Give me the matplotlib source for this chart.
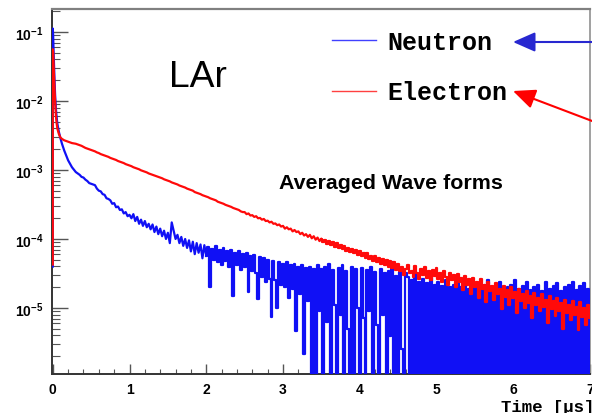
import numpy as np
import matplotlib
matplotlib.use('Agg')
import matplotlib.pyplot as plt
from matplotlib.ticker import MultipleLocator, LogLocator, FuncFormatter, NullFormatter, FixedLocator
from matplotlib.lines import Line2D
from matplotlib.patches import FancyArrowPatch
from matplotlib.font_manager import FontProperties

plt.rcParams['font.family'] = ['Liberation Sans', 'DejaVu Sans']
plt.rcParams['mathtext.fontset'] = 'custom'
plt.rcParams['mathtext.rm'] = 'Liberation Sans:bold'
plt.rcParams['mathtext.it'] = 'Liberation Sans:bold'
plt.rcParams['mathtext.bf'] = 'Liberation Sans:bold'
plt.rcParams['mathtext.default'] = 'rm'
plt.rcParams['path.simplify'] = False

# ---------------- data (log10 of averaged amplitude) ----------------
series_labels = ['Neutron', 'Electron']

early_time_us = [0.0, 0.0, 0.005, 0.01, 0.02, 0.03, 0.04, 0.05, 0.06, 0.08,
                 0.10, 0.12, 0.15, 0.20, 0.25]
neutron_early_log10 = [-4.40, -0.95, -1.05, -1.25, -1.60, -1.90, -2.10, -2.23,
                       -2.33, -2.45, -2.54, -2.62, -2.72, -2.86, -2.96]
electron_early_log10 = [-4.37, -1.25, -1.30, -1.45, -1.75, -2.00, -2.20, -2.32,
                        -2.40, -2.48, -2.53, -2.55, -2.57, -2.59, -2.61]

grid_start_us = 0.3
grid_step_us = 0.025

neutron_log10 = [
    -3.03, -3.05, -3.07, -3.10, -3.11, -3.14, -3.16, -3.19, -3.20, -3.21,
    -3.22, -3.27, -3.30, -3.31, -3.35, -3.36, -3.41, -3.42, -3.44, -3.49,
    -3.48, -3.54, -3.53, -3.58, -3.57, -3.63, -3.61, -3.67, -3.65,
    -3.70, -3.64, -3.74, -3.68, -3.78, -3.72, -3.81, -3.74, -3.83, -3.78,
    -3.86, -3.79, -3.90, -3.82, -3.93, -3.85, -3.96, -3.88, -4.00, -3.91,
    -4.06, -3.76, -3.88, -4.00, -3.94, -4.06, -3.97, -4.10, -4.00, -4.13,
    -4.02, -4.18, -4.04, -4.22, -4.06, -4.20, -4.08, -4.28, -4.09, -4.24,
    -4.12, -4.70, -4.14, -4.30, -4.10, -4.34, -4.16, -4.38, -4.13, -4.32,
    -4.18, -4.40, -4.16, -4.83, -4.20, -4.38, -4.18, -4.45, -4.22, -4.40,
    -4.20, -4.77, -4.24, -4.46, -4.23, -4.50, -4.87, -4.26, -4.55, -4.28,
    -4.62, -4.30, -4.58, -5.13, -4.32, -4.60, -5.00, -4.33, -4.66, -4.36,
    -4.70, -4.34, -4.85, -4.38, -4.72, -4.36, -5.34, -4.40, -4.80, -4.38,
    -5.67, -4.42,
    -4.90, -4.40, -6.5, -4.43, -6.5, -4.38, -5.05, -4.44, -6.5, -4.41,
    -5.20, -4.36, -6.5, -4.45, -4.95, -6.5, -4.42, -5.10, -4.38, -6.5,
    -4.46, -5.30, -6.5, -4.40, -6.5, -4.44, -5.00, -6.5, -4.42, -5.15,
    -6.5, -4.45, -5.05, -4.41, -6.5, -4.48, -5.25, -6.5, -4.43, -5.10,
    -4.50, -6.5, -4.46, -5.40, -4.34, -6.5, -4.53, -6.5, -4.48, -5.60,
    -6.5, -4.50,
    -4.55, -6.5, -4.60, -6.5, -4.48, -6.5, -4.62, -6.5, -4.58, -6.5,
    -4.64, -6.5, -4.52, -6.5, -4.66, -6.5, -4.62, -6.5, -4.68, -6.5,
    -4.60, -6.5, -4.70, -6.5, -4.66, -6.5, -4.58, -6.5, -4.70, -6.5,
    -4.64, -6.5, -4.72, -6.5, -4.62, -6.5, -4.70, -6.5, -4.74, -6.5,
    -4.66, -6.5, -4.60, -6.5, -4.72, -6.5, -4.68, -6.5, -4.62, -6.5,
    -4.74, -6.5, -4.70, -6.5, -4.66, -6.5, -4.60, -6.5, -4.72, -6.5,
    -4.68, -6.5, -4.62, -6.5, -4.74, -6.5, -4.70, -6.5, -4.66, -6.5,
    -4.76, -6.5, -4.62, -6.5, -4.72, -6.5, -4.68, -6.5, -4.64, -6.5,
    -4.76, -6.5, -4.70, -6.5, -4.66, -6.5, -4.62, -6.5, -4.74, -6.5,
    -4.68, -6.5, -4.64, -6.5, -4.72, -6.5,
]

electron_log10 = [
    -2.62, -2.63, -2.64, -2.65,
    -2.665, -2.68, -2.69, -2.70,
    -2.71, -2.72, -2.73, -2.745,
    -2.755, -2.77, -2.78, -2.79,
    -2.80, -2.81, -2.825, -2.835,
    -2.845, -2.855, -2.87, -2.88,
    -2.89, -2.90, -2.915, -2.925,
    -2.935, -2.945, -2.96, -2.97,
    -2.98, -2.99, -3.005, -3.015,
    -3.025, -3.035, -3.05, -3.06,
    -3.07, -3.08, -3.09, -3.10,
    -3.11, -3.12, -3.135, -3.145,
    -3.155, -3.165, -3.18, -3.19,
    -3.20, -3.21, -3.225, -3.235,
    -3.245, -3.255, -3.27, -3.28,
    -3.29, -3.30, -3.32, -3.33,
    -3.34, -3.35, -3.365, -3.375,
    -3.385, -3.395, -3.41, -3.42,
    -3.43, -3.44, -3.46, -3.47,
    -3.48, -3.49, -3.505, -3.515,
    -3.525, -3.535, -3.55, -3.56,
    -3.57, -3.58, -3.60, -3.61,
    -3.61, -3.64, -3.63, -3.66,
    -3.655, -3.68, -3.67, -3.70,
    -3.695, -3.72, -3.71, -3.74,
    -3.735, -3.76, -3.75, -3.78,
    -3.775, -3.80, -3.79, -3.82,
    -3.81, -3.85, -3.83, -3.86,
    -3.85, -3.89, -3.87, -3.90,
    -3.89, -3.93, -3.91, -3.95,
    -3.93, -3.97, -3.94, -3.99,
    -3.96, -4.01, -3.98, -4.03,
    -4.00, -4.05, -4.01, -4.08,
    -4.03, -4.09, -4.05, -4.11,
    -4.06, -4.13, -4.09, -4.15,
    -4.10, -4.17, -4.13, -4.19,
    -4.14, -4.21, -4.16, -4.23,
    -4.18, -4.25, -4.21, -4.28,
    -4.21, -4.29, -4.24, -4.32,
    -4.25, -4.33, -4.27, -4.36,
    -4.29, -4.37, -4.31, -4.40,
    -4.32, -4.42, -4.34, -4.45,
    -4.36, -4.47, -4.40, -4.52, -4.44, -4.38, -4.50, -4.46, -4.55, -4.39,
    -4.49, -4.58, -4.43, -4.52, -4.41, -4.56, -4.47, -4.60, -4.45, -4.53,
    -4.42, -4.58, -4.50, -4.63, -4.46, -4.55, -4.66, -4.49, -4.60, -4.52,
    -4.70, -4.51, -4.62, -4.56, -4.74, -4.53, -4.66, -4.58, -4.80, -4.57,
    -4.70, -4.62, -4.85, -4.58, -4.73, -4.66, -4.92, -4.62, -4.76, -4.68,
    -4.88, -4.64, -4.80, -4.72, -5.02, -4.68, -4.84, -4.74, -4.95, -4.70,
    -4.86, -4.77, -5.08, -4.72, -4.90, -4.80, -5.00, -4.75, -4.93, -4.82,
    -5.15, -4.78, -4.96, -4.85, -5.05, -4.80, -4.99, -4.88, -5.22, -4.83,
    -5.02, -4.90, -5.12, -4.85, -5.05, -4.93, -5.30, -4.88, -5.08, -4.95,
    -5.18, -4.90, -5.10, -4.98, -5.32, -4.92, -5.13, -5.00, -5.25, -4.95,
    -5.15,
]

# time after which each waveform is drawn as a histogram (noisy tail)
neutron_hist_from_us = 2.0
electron_hist_from_us = 3.5

x_ticks = [0, 1, 2, 3, 4, 5, 6, 7]
y_decades = [-5, -4, -3, -2, -1]
text_lar = 'LAr'
text_title = 'Averaged Wave forms'
x_label = 'Time [\u03bcs]'


def build(early_t, early_v, vals):
    t = list(early_t) + [grid_start_us + grid_step_us * i for i in range(len(vals))]
    v = list(early_v) + list(vals)
    return np.array(t), np.power(10.0, np.array(v))


tn, yn = build(early_time_us, neutron_early_log10, neutron_log10)
te, ye = build(early_time_us, electron_early_log10, electron_log10)

# ---------------- figure ----------------
W, H = 592, 414
fig = plt.figure(figsize=(W / 100, H / 100), dpi=100)
fig.patch.set_facecolor('white')
ax = fig.add_axes([52 / W, (H - 375) / H, 538 / W, 365 / H])

blue = '#1010f5'
red = '#ff0a0a'


def draw(t, y, t_split, color, z):
    k = int(np.searchsorted(t, t_split))
    ax.plot(t[:k + 1], y[:k + 1], color=color, lw=1.6, zorder=z)
    ax.plot(t[k:], y[k:], color=color, lw=1.6, zorder=z, drawstyle='steps-mid')


draw(tn, yn, neutron_hist_from_us, blue, 3)
draw(te, ye, electron_hist_from_us, red, 3.1)

ax.set_yscale('log')
ax.set_xlim(-0.01, 7.0)
ax.set_ylim(1.104e-6, 0.2154)

ax.xaxis.set_major_locator(FixedLocator(x_ticks))
ax.xaxis.set_minor_locator(MultipleLocator(0.2))
ax.set_xticklabels([str(v) for v in x_ticks], fontweight='bold')
ax.yaxis.set_major_locator(FixedLocator([10.0 ** d for d in y_decades]))
ax.yaxis.set_minor_locator(LogLocator(base=10, subs=np.arange(2, 10)))
ax.yaxis.set_major_formatter(FuncFormatter(lambda v, p: r'$10^{%d}$' % int(round(np.log10(v)))))
ax.yaxis.set_minor_formatter(NullFormatter())

tick_col = '#555555'
ax.tick_params(axis='y', which='major', direction='in', length=11.5, width=1.0,
               color=tick_col, labelsize=10, pad=6)
ax.tick_params(axis='y', which='minor', direction='in', length=5.5, width=0.8,
               color=tick_col)
ax.tick_params(axis='x', which='major', direction='in', length=7, width=1.0,
               color=tick_col, labelsize=10, pad=6)
ax.tick_params(axis='x', which='minor', direction='in', length=3.5, width=0.8,
               color=tick_col)
for lab in ax.get_xticklabels():
    lab.set_fontweight('bold')

ax.spines['left'].set_color('#333333')
ax.spines['left'].set_linewidth(1.4)
ax.spines['bottom'].set_color('#333333')
ax.spines['bottom'].set_linewidth(1.4)
ax.spines['top'].set_color('#808080')
ax.spines['top'].set_linewidth(1.6)
ax.spines['right'].set_color('#909090')
ax.spines['right'].set_linewidth(1.2)

# legend
mono_bold = FontProperties(family='Liberation Mono', weight='bold', size=18)
handles = [Line2D([], [], color='#4040ff', lw=1.0),
           Line2D([], [], color='#ff4040', lw=1.0)]
ax.legend(handles, series_labels, loc='upper left', bbox_to_anchor=(0.5204, 0.9425),
          frameon=False, prop=mono_bold, handlelength=1.76, handletextpad=0.44,
          labelspacing=1.06, borderpad=0, borderaxespad=0)

# texts
fig.text(169 / W, 1 - 87 / H, text_lar, fontsize=26.8, ha='left', va='baseline',
         family='Liberation Sans')
fig.text(279 / W, 1 - 189 / H, text_title, fontsize=15.4, fontweight='bold',
         ha='left', va='baseline', family='Liberation Sans')
fig.text(501 / W, 1 - 408 / H, x_label, fontproperties=FontProperties(
    family='Liberation Mono', weight='bold', size=12.5), ha='left', va='center')

# arrows pointing at the legend entries
arr_b = FancyArrowPatch((600 / W, 1 - 43 / H), (513 / W, 1 - 43 / H),
                        transform=fig.transFigure, arrowstyle='-|>,head_length=0.68,head_width=0.3',
                        mutation_scale=20, lw=1.5, color='#2828d0', shrinkA=0, shrinkB=0)
arr_r = FancyArrowPatch((600 / W, 1 - 125 / H), (513 / W, 1 - 92 / H),
                        transform=fig.transFigure, arrowstyle='-|>,head_length=0.68,head_width=0.3',
                        mutation_scale=20, lw=1.5, color='#ff0000', shrinkA=0, shrinkB=0)
fig.add_artist(arr_b)
fig.add_artist(arr_r)

fig.savefig('out.png', dpi=100)
